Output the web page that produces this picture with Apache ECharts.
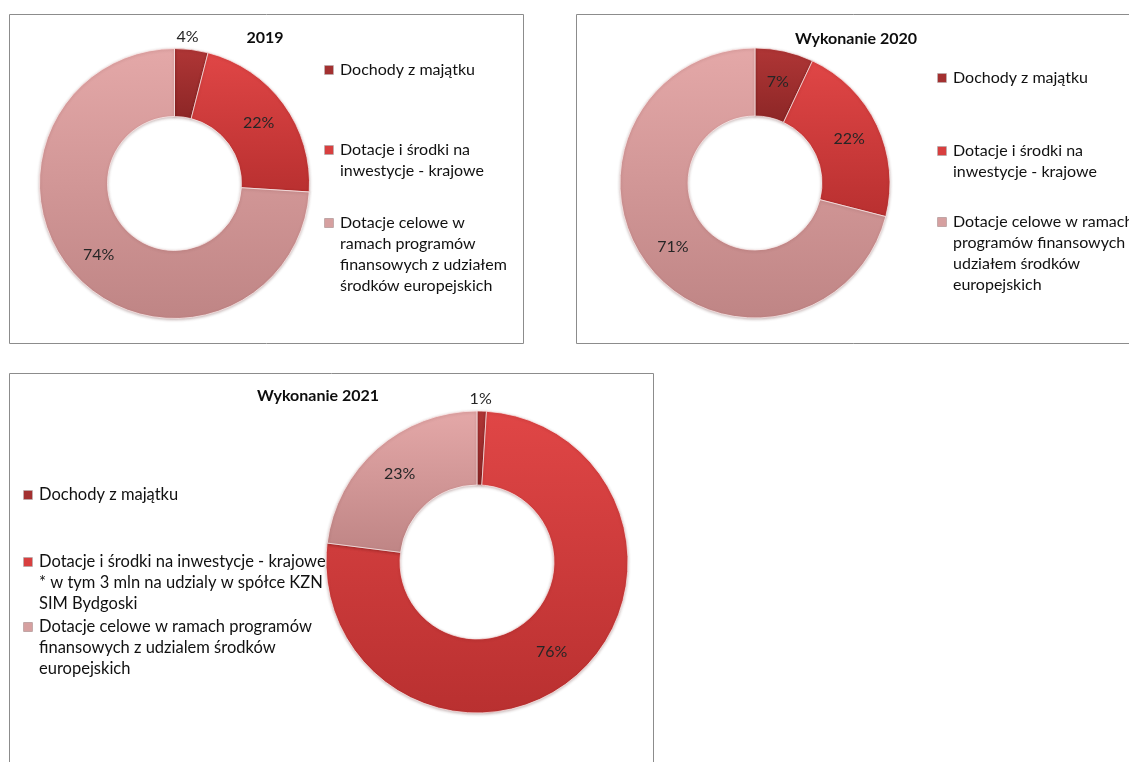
<!DOCTYPE html>
<html>
<head>
<meta charset="utf-8">
<title>Struktura dochodów majątkowych</title>
<script src="https://cdn.jsdelivr.net/npm/echarts@6/dist/echarts.min.js"></script>
<style>
  html, body { margin: 0; padding: 0; background: #ffffff; }
  #chart { width: 1129px; height: 762px; }
</style>
</head>
<body>
<div id="chart"></div>
<script>
// Revenue categories (same order in every year)
const categories = [
  'Dochody z majątku',
  'Dotacje i środki na inwestycje - krajowe',
  'Dotacje celowe w ramach programów finansowych z udziałem środków europejskich'
];

// Panel titles
const titles = ['2019', 'Wykonanie 2020', 'Wykonanie 2021'];

// Percentage shares per year
const shares2019 = [4, 22, 74];
const shares2020 = [7, 22, 71];
const shares2021 = [1, 76, 23];

// Legend wording, already broken into lines
const legendLines2019 = [
  ['Dochody z majątku'],
  ['Dotacje i środki na', 'inwestycje - krajowe'],
  ['Dotacje celowe w', 'ramach programów', 'finansowych z udziałem', 'środków europejskich']
];
const legendLines2020 = [
  ['Dochody z majątku'],
  ['Dotacje i środki na', 'inwestycje - krajowe'],
  ['Dotacje celowe w ramach', 'programów finansowych z', 'udziałem środków', 'europejskich']
];
const legendLines2021 = [
  ['Dochody z majątku'],
  ['Dotacje i środki na inwestycje - krajowe', '* w tym 3 mln na udzialy w spółce KZN', 'SIM Bydgoski'],
  ['Dotacje celowe w ramach programów', 'finansowych z udzialem środków', 'europejskich']
];

const FONT = 'Lato, "Open Sans", "DejaVu Sans", sans-serif';

// Slice fills: lighter at the top, darker at the bottom
const sliceTop = ['#b03636', '#e04646', '#e4a8a8'];
const sliceBottom = ['#8c2626', '#b93030', '#bf8585'];
const markerColors = ['#a33030', '#d83f3f', '#d6a0a0'];

function sliceFill(i) {
  return {
    type: 'linear', x: 0, y: 0, x2: 0, y2: 1,
    colorStops: [
      { offset: 0, color: sliceTop[i] },
      { offset: 1, color: sliceBottom[i] }
    ]
  };
}

// Layout of the three chart boxes
const panels = [
  {
    shares: shares2019, title: titles[0], legendLines: legendLines2019,
    center: [174.5, 183.5], radius: [67, 135],
    titleX: 265, titleY: 30,
    markerX: 324, legendTops: [59.5, 139.5, 212.5], fontSize: 16,
    frame: [9.5, 14.5, 514, 329]
  },
  {
    shares: shares2020, title: titles[1], legendLines: legendLines2020,
    center: [755, 183], radius: [67, 135],
    titleX: 856, titleY: 31,
    markerX: 937, legendTops: [67.5, 140.5, 211.5], fontSize: 16,
    frame: [576.5, 14.5, 600, 329]
  },
  {
    shares: shares2021, title: titles[2], legendLines: legendLines2021,
    center: [477, 562], radius: [77, 151],
    titleX: 318, titleY: 388,
    markerX: 23, legendTops: [484.5, 551.5, 616.5], fontSize: 16.5,
    frame: [9.5, 373.5, 644, 400]
  }
];

const chart = echarts.init(document.getElementById('chart'), null, { renderer: 'canvas' });

const markerRich = {};
markerColors.forEach(function (c, i) {
  markerRich['m' + i] = {
    width: 8, height: 8, backgroundColor: c,
    borderColor: 'rgba(90,20,20,0.5)', borderWidth: 0.7, verticalAlign: 'middle'
  };
});

const option = {
  backgroundColor: '#ffffff',
  animation: false,
  graphic: panels.map(function (p) {
    return {
      type: 'rect', silent: true, z: 0,
      shape: { x: p.frame[0], y: p.frame[1], width: p.frame[2], height: p.frame[3] },
      style: { fill: 'none', stroke: '#8c8c8c', lineWidth: 1 }
    };
  }),
  title: panels.map(function (p) {
    return {
      text: p.title, left: p.titleX, top: p.titleY, textAlign: 'center', padding: 0,
      textStyle: { fontFamily: FONT, fontSize: 16, fontWeight: 'bold', color: '#0d0d0d' }
    };
  }),
  legend: panels.flatMap(function (p) {
    return p.legendLines.map(function (lines, k) {
      return {
        data: [categories[k]],
        selectedMode: false, orient: 'vertical', padding: 0,
        left: p.markerX - 5, top: p.legendTops[k],
        icon: 'rect', itemWidth: 0, itemHeight: 0, itemGap: 0,
        itemStyle: { opacity: 0 },
        formatter: function () {
          return lines.map(function (ln, j) {
            return (j === 0 ? '{m' + k + '|}{sp|}' : '{ind|}') + ln;
          }).join('\n');
        },
        textStyle: {
          fontFamily: FONT, fontSize: p.fontSize, color: '#111111', lineHeight: 21,
          rich: Object.assign({ sp: { width: 7 }, ind: { width: 15 } }, markerRich)
        }
      };
    });
  }),
  series: panels.map(function (p) {
    const ring = p.radius[1] - p.radius[0];
    return {
      type: 'pie',
      center: p.center,
      radius: p.radius,
      startAngle: 90,
      clockwise: true,
      avoidLabelOverlap: false,
      silent: true,
      label: {
        show: true, position: 'inside', formatter: '{c}%',
        fontFamily: FONT, fontSize: 16, color: '#262626'
      },
      labelLine: { show: false },
      // very small slices get their label lifted above the ring
      labelLayout: function (params) {
        return p.shares[params.dataIndex] < 5 ? { dy: -(ring / 2 + 9) } : {};
      },
      itemStyle: {
        borderColor: 'rgba(255,240,240,0.7)', borderWidth: 1,
        shadowBlur: 3, shadowColor: 'rgba(60,0,0,0.28)', shadowOffsetY: 1
      },
      data: p.shares.map(function (v, i) {
        return { name: categories[i], value: v, itemStyle: { color: sliceFill(i) } };
      })
    };
  })
};

chart.setOption(option);
</script>
</body>
</html>
